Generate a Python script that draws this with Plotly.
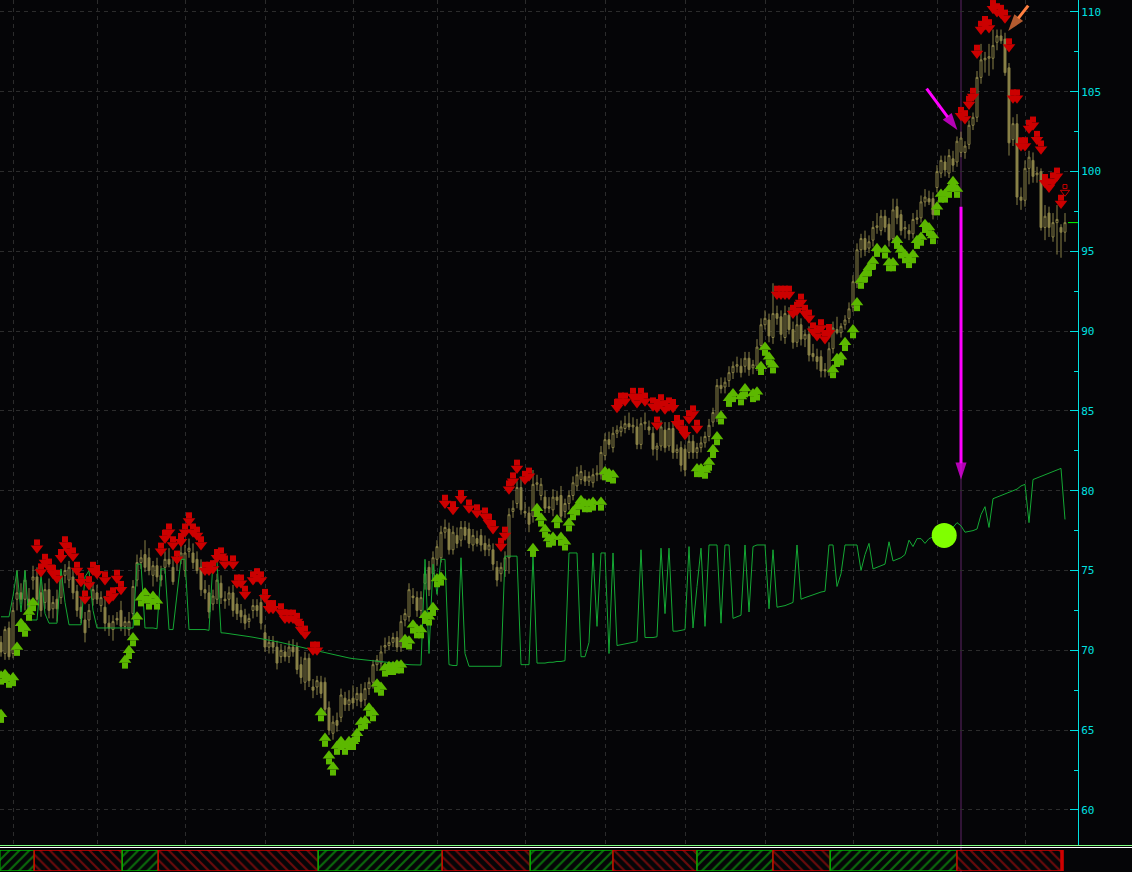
import plotly.graph_objects as go

# ---------------- data (candle index = trading day) ----------------
opens = [
    70.5, 69.8, 71.4, 69.8, 73.2, 73.6, 73.2, 73.2, 74.4, 74.6,
    73.6, 73.0, 73.8, 72.6, 73.2, 73.3, 74.7, 74.4, 74.6, 73.7,
    72.7, 71.9, 71.9, 73.2, 73.6, 72.8, 72.7, 71.7, 71.3, 72.0,
    72.5, 71.5, 71.3, 72.3, 74.4, 75.5, 76.0, 75.8, 74.7, 75.3,
    74.7, 75.2, 75.7, 75.2, 75.5, 75.7, 75.0, 76.2, 76.1, 75.7,
    75.2, 73.8, 73.6, 72.9, 73.2, 74.2, 73.2, 73.2, 73.6, 72.9,
    72.5, 72.2, 71.8, 72.5, 72.8, 73.0, 71.1, 70.2, 70.5, 70.2,
    69.6, 69.9, 69.6, 70.2, 70.2, 69.1, 68.0, 69.5, 67.7, 67.7,
    68.0, 68.0, 66.4, 64.8, 65.6, 65.8, 67.0, 66.6, 67.0, 66.9,
    67.3, 66.9, 67.6, 68.0, 69.1, 69.2, 70.2, 70.3, 70.5, 70.8,
    70.2, 71.9, 72.1, 73.4, 73.3, 72.5, 74.2, 75.2, 74.8, 75.7,
    75.8, 77.4, 77.6, 76.3, 77.2, 76.9, 77.7, 77.6, 76.6, 77.0,
    77.2, 76.7, 76.3, 76.3, 75.2, 74.8, 75.0, 75.8, 78.7, 79.2,
    80.2, 78.7, 78.6, 78.4, 80.4, 79.7, 79.6, 79.0, 78.8, 79.6,
    79.7, 78.7, 79.2, 79.7, 80.3, 80.7, 80.9, 80.6, 80.5, 81.0,
    81.0, 82.2, 83.2, 82.7, 83.6, 83.7, 83.9, 84.2, 84.0, 84.0,
    82.9, 84.2, 84.0, 83.6, 82.6, 82.8, 83.8, 82.8, 83.9, 82.4,
    82.7, 82.6, 82.4, 83.1, 82.4, 82.7, 83.0, 83.4, 84.3, 84.6,
    86.6, 86.5, 86.9, 87.4, 87.8, 87.8, 87.8, 88.3, 87.7, 87.8,
    89.1, 90.4, 90.7, 89.6, 91.1, 90.9, 89.6, 91.0, 90.1, 89.3,
    90.4, 89.5, 89.8, 88.6, 88.4, 88.4, 87.6, 87.5, 88.9, 90.1,
    89.9, 90.4, 90.8, 91.5, 93.0, 95.1, 95.8, 95.2, 95.7, 96.5,
    96.3, 97.2, 96.7, 95.8, 97.8, 97.3, 96.4, 96.3, 96.1, 97.0,
    97.1, 98.1, 98.3, 98.3, 99.0, 99.9, 100.6, 99.9, 100.8, 100.6,
    101.2, 101.2, 101.7, 102.9, 103.4, 105.9, 107.0, 107.1, 107.1, 108.1,
    108.5, 108.3, 106.5, 102.0, 103.0, 98.4, 98.2, 100.2, 100.7, 99.8,
    100.0, 96.5, 97.4, 95.9, 96.8, 96.5, 96.2,
]
highs = [
    70.9, 71.5, 71.8, 73.0, 75.0, 74.2, 75.0, 73.9, 75.3, 75.2,
    74.3, 74.2, 74.5, 73.4, 73.8, 75.0, 75.4, 75.6, 75.1, 74.1,
    73.3, 72.4, 72.9, 74.3, 74.1, 73.7, 73.4, 72.2, 72.2, 72.4,
    73.1, 72.1, 72.4, 74.4, 76.0, 76.3, 76.9, 76.4, 75.6, 75.8,
    75.3, 76.2, 76.4, 75.8, 76.1, 76.6, 76.6, 77.0, 76.7, 76.2,
    75.7, 74.4, 74.1, 73.8, 74.8, 74.7, 73.7, 74.0, 74.1, 73.3,
    72.9, 72.6, 72.3, 73.2, 73.2, 73.5, 71.6, 70.9, 70.9, 70.6,
    70.4, 70.3, 70.6, 70.7, 70.5, 69.6, 69.9, 69.8, 68.2, 68.4,
    68.4, 68.3, 66.8, 65.9, 66.1, 67.6, 67.4, 67.5, 67.8, 67.7,
    67.9, 68.0, 68.3, 69.4, 69.7, 70.3, 70.8, 70.9, 71.1, 71.2,
    72.2, 72.6, 74.2, 73.9, 73.7, 73.7, 75.2, 75.6, 76.2, 76.9,
    77.8, 78.2, 78.0, 77.8, 77.7, 78.1, 78.1, 78.0, 77.6, 77.5,
    77.6, 77.2, 77.0, 76.7, 75.6, 75.5, 76.2, 78.9, 79.4, 80.6,
    80.9, 79.3, 79.0, 81.3, 81.0, 80.8, 80.0, 79.6, 80.1, 80.0,
    80.3, 79.5, 80.0, 80.9, 81.5, 81.6, 81.3, 81.2, 81.4, 81.6,
    82.8, 83.6, 83.7, 84.0, 84.1, 84.4, 84.7, 84.9, 84.6, 84.5,
    84.6, 84.9, 84.4, 84.0, 83.0, 84.4, 84.3, 84.3, 84.3, 82.9,
    83.1, 82.9, 83.5, 83.5, 83.0, 83.4, 83.7, 84.5, 85.2, 87.0,
    87.1, 87.1, 87.8, 88.1, 88.4, 88.3, 88.7, 88.7, 88.2, 89.5,
    90.8, 91.3, 91.1, 93.0, 91.6, 91.3, 91.6, 91.5, 90.6, 91.0,
    90.8, 90.1, 90.3, 89.2, 88.9, 88.8, 88.0, 89.3, 90.6, 90.9,
    90.5, 91.0, 91.8, 93.5, 95.5, 96.1, 96.3, 96.0, 96.9, 97.4,
    97.6, 97.6, 97.1, 98.3, 98.3, 97.6, 96.9, 96.7, 97.4, 97.6,
    98.5, 98.9, 98.8, 98.7, 100.4, 101.0, 101.0, 101.4, 101.3, 102.2,
    102.5, 101.9, 103.2, 103.7, 106.3, 108.0, 107.5, 108.0, 108.9, 108.9,
    108.9, 108.7, 106.8, 103.4, 103.6, 99.0, 100.7, 101.3, 101.2, 100.3,
    100.2, 97.9, 97.8, 97.4, 97.9, 96.7, 97.4,
]
lows = [
    69.6, 69.4, 69.4, 69.5, 72.5, 72.9, 72.5, 72.2, 73.8, 72.9,
    72.1, 72.6, 72.0, 72.0, 71.8, 72.9, 74.2, 73.9, 73.2, 72.1,
    71.7, 70.5, 71.4, 72.8, 72.9, 72.4, 71.2, 70.9, 70.6, 71.6,
    71.2, 70.9, 70.9, 72.0, 74.0, 75.1, 74.9, 74.7, 74.0, 74.3,
    74.0, 74.8, 75.2, 74.1, 75.0, 75.4, 74.6, 75.8, 75.1, 74.8,
    73.4, 73.2, 72.0, 72.5, 72.9, 72.9, 72.6, 72.8, 72.1, 71.9,
    71.7, 71.3, 71.4, 72.0, 72.1, 71.3, 69.9, 69.8, 69.8, 68.8,
    69.2, 69.3, 69.2, 69.6, 68.5, 67.9, 67.5, 67.7, 67.0, 67.2,
    67.0, 65.9, 64.7, 64.4, 64.9, 65.5, 66.2, 66.2, 66.3, 66.5,
    66.4, 66.5, 67.2, 67.6, 68.7, 68.9, 69.8, 70.0, 70.2, 69.9,
    69.9, 71.5, 71.8, 72.9, 72.1, 72.1, 73.8, 73.4, 74.4, 75.3,
    75.5, 77.0, 76.0, 76.0, 76.4, 76.5, 76.9, 76.4, 76.2, 76.5,
    76.2, 75.9, 75.9, 75.0, 74.0, 74.3, 74.6, 74.8, 78.3, 78.9,
    78.5, 78.3, 77.4, 78.0, 80.0, 79.4, 78.6, 78.6, 78.4, 79.1,
    78.0, 78.3, 78.8, 79.4, 80.0, 80.4, 80.3, 80.3, 80.2, 80.6,
    80.7, 81.9, 82.6, 82.4, 83.3, 83.4, 83.6, 83.8, 83.6, 82.6,
    82.6, 83.8, 83.5, 82.2, 81.9, 82.5, 82.4, 82.5, 82.0, 82.0,
    81.2, 80.9, 82.0, 82.0, 82.0, 82.4, 82.7, 83.1, 84.0, 84.3,
    86.1, 86.1, 86.5, 87.0, 87.4, 87.1, 87.4, 87.2, 87.3, 87.5,
    88.8, 90.1, 89.3, 89.2, 90.4, 89.4, 89.2, 89.8, 88.9, 89.0,
    89.1, 89.0, 88.1, 88.1, 87.6, 87.1, 87.1, 87.2, 88.6, 89.8,
    89.6, 90.1, 90.5, 91.2, 92.7, 94.6, 94.7, 94.9, 95.3, 96.1,
    96.0, 96.2, 95.3, 95.5, 96.7, 96.0, 95.8, 95.7, 95.8, 96.7,
    96.8, 97.8, 97.9, 97.0, 98.7, 99.6, 99.7, 99.6, 100.0, 100.3,
    100.9, 100.8, 101.4, 102.6, 103.1, 105.5, 106.2, 106.0, 106.4, 107.6,
    108.0, 106.0, 101.0, 101.6, 97.9, 97.6, 97.8, 99.2, 99.3, 99.3,
    96.3, 95.7, 95.9, 95.6, 94.8, 94.6, 95.6,
]
closes = [
    69.9, 71.3, 69.6, 72.5, 73.6, 73.2, 74.4, 72.6, 74.6, 73.2,
    72.5, 73.8, 72.5, 73.0, 72.6, 74.6, 75.0, 75.2, 73.6, 72.5,
    72.0, 71.1, 72.5, 73.8, 73.2, 73.3, 71.7, 71.4, 71.8, 71.9,
    71.5, 71.8, 71.8, 74.0, 75.5, 75.8, 75.2, 75.0, 75.3, 74.6,
    74.4, 75.7, 75.4, 74.3, 75.7, 76.1, 76.1, 76.4, 75.5, 75.0,
    73.8, 73.6, 72.4, 73.4, 74.4, 73.3, 73.1, 73.6, 72.5, 72.3,
    72.1, 71.7, 72.0, 72.8, 72.5, 71.7, 70.2, 70.5, 70.2, 69.2,
    70.0, 69.6, 70.2, 69.9, 68.8, 68.3, 69.5, 68.1, 67.5, 68.1,
    67.3, 66.3, 65.0, 65.5, 65.3, 67.2, 66.6, 66.9, 66.7, 67.3,
    66.8, 67.6, 68.0, 69.1, 69.4, 69.9, 70.3, 70.5, 70.8, 70.2,
    71.8, 72.3, 73.8, 73.3, 72.5, 73.3, 74.8, 73.8, 75.8, 76.5,
    77.4, 77.7, 76.3, 77.4, 76.7, 77.7, 77.2, 76.7, 77.2, 76.7,
    76.6, 76.3, 76.6, 75.4, 74.4, 75.2, 75.8, 78.5, 78.9, 80.2,
    78.8, 78.6, 77.9, 80.4, 80.5, 80.4, 78.9, 78.9, 79.6, 79.4,
    78.4, 79.2, 79.7, 80.5, 81.0, 81.2, 80.6, 80.9, 81.0, 81.1,
    82.4, 83.2, 82.9, 83.6, 83.8, 84.0, 84.2, 84.0, 84.1, 82.9,
    84.2, 84.3, 83.8, 82.6, 82.8, 84.0, 82.7, 83.9, 82.4, 82.6,
    81.6, 81.3, 83.1, 82.4, 82.7, 83.0, 83.4, 84.1, 84.9, 86.6,
    86.4, 86.8, 87.4, 87.8, 87.9, 87.4, 88.3, 87.6, 87.9, 89.0,
    90.4, 90.8, 89.7, 91.1, 90.8, 89.8, 91.1, 90.1, 89.3, 90.4,
    89.5, 89.8, 88.5, 88.4, 88.1, 87.5, 87.5, 88.9, 90.2, 89.9,
    90.3, 90.7, 91.4, 93.1, 95.1, 95.8, 95.1, 95.6, 96.5, 96.6,
    97.2, 96.5, 95.7, 97.6, 97.1, 96.3, 96.5, 96.1, 97.0, 97.1,
    98.1, 98.4, 98.1, 97.3, 100.0, 100.7, 100.1, 101.0, 100.4, 101.9,
    102.1, 101.6, 102.9, 103.4, 105.9, 107.0, 107.1, 107.2, 107.9, 108.5,
    108.2, 106.2, 101.8, 103.0, 98.4, 98.2, 100.2, 100.9, 99.7, 99.9,
    96.5, 97.2, 96.5, 96.8, 97.0, 96.2, 96.8,
]
stop_line = [
    72.1, 72.1, 72.1, 73.4, 75.0, 72.4, 75.0, 71.9, 71.9, 71.9,
    74.7, 72.3, 71.7, 71.7, 71.7, 75.1, 73.0, 71.6, 71.6, 71.6,
    71.6, 74.6, 75.0, 72.5, 71.4, 71.4, 71.4, 71.4, 71.4, 71.4,
    71.4, 71.4, 71.4, 71.4, 75.4, 75.4, 71.4, 71.4, 71.4, 71.35,
    75.1, 75.1, 71.3, 71.3, 73.5, 75.7, 75.7, 71.3, 71.3, 71.3,
    71.3, 71.3, 71.25, 75.6, 75.6, 71.1, 71.08, 71.05, 71.0, 70.97,
    70.94, 70.9, 70.86, 70.82, 70.78, 70.74, 70.69, 70.64, 70.59, 70.54,
    70.49, 70.44, 70.38, 70.32, 70.26, 70.2, 70.14, 70.08, 70.02, 69.96,
    69.9, 69.84, 69.78, 69.72, 69.66, 69.6, 69.56, 69.52, 69.48, 69.45,
    69.42, 69.39, 69.36, 69.33, 69.3, 69.27, 69.24, 69.21, 69.18, 69.16,
    69.14, 69.12, 69.1, 69.09, 69.08, 69.08, 75.7, 69.8, 75.4, 73.5,
    75.7, 75.7, 69.1, 69.05, 69.05, 75.8, 69.8, 69.0, 69.0, 69.0,
    69.0, 69.0, 69.0, 69.0, 69.0, 69.0, 75.9, 75.9, 75.9, 75.9,
    69.1, 69.1, 69.1, 76.0, 69.2, 69.2, 69.2, 69.25, 69.25, 69.3,
    69.3, 69.35, 76.1, 76.1, 76.1, 69.6, 69.6, 70.5, 76.1, 71.5,
    76.1, 76.1, 69.8, 76.1, 70.3, 70.35, 70.4, 70.45, 70.5, 70.55,
    76.3, 70.8, 70.8, 70.8, 70.85, 76.4, 72.3, 76.4, 71.2, 71.2,
    71.25, 71.3, 76.5, 71.4, 74.0, 76.4, 71.5, 76.6, 76.6, 76.6,
    71.7, 76.6, 76.6, 72.0, 72.1, 72.2, 76.6, 72.4, 76.5, 76.6,
    76.6, 76.6, 72.6, 76.3, 72.7, 72.75, 72.8, 72.9, 73.0, 76.6,
    73.2, 73.3, 73.4, 73.5, 73.55, 73.65, 73.7, 76.6, 76.6, 74.0,
    74.8, 76.6, 76.6, 76.6, 76.6, 75.0, 76.0, 76.7, 75.1, 75.2,
    75.3, 75.4, 76.8, 75.6, 75.7, 75.8, 76.0, 76.9, 76.5, 77.0,
    77.0, 76.7, 77.0, 77.1, 77.2, 77.3, 77.4, 77.5, 77.7, 78.0,
    77.8, 77.4, 77.45, 77.5, 77.6, 78.5, 79.0, 77.7, 79.5, 79.6,
    79.7, 79.8, 79.9, 80.0, 80.1, 80.3, 80.4, 78.0, 80.7, 80.8,
    80.9, 81.0, 81.1, 81.2, 81.3, 81.4, 78.2,
]

# sell signals (red arrows): candle index and price level
sell_idx = [9, 10, 11, 12, 13, 14, 15, 16, 17, 18, 19, 20, 21, 22, 23, 24, 26, 27, 28, 29, 30,
            40, 41, 42, 43, 44, 45, 46, 47, 48, 49, 50, 51, 52, 53, 54, 55, 56, 58, 59, 60, 61,
            63, 64, 65, 66, 67, 68, 70, 71, 72, 73, 74, 75, 76, 78, 79,
            111, 113, 115, 117, 119, 121, 122, 123, 125, 126, 127, 128, 129, 131, 132,
            154, 155, 156, 158, 159, 160, 161, 163, 164, 165, 166, 167, 168, 164, 169, 170, 171, 172, 173, 174,
            194, 195, 196, 197, 198, 199, 200, 201, 202, 203, 204, 205, 206, 207,
            240, 241, 242, 243, 244, 245, 246, 247, 248, 249, 250, 251, 252, 253, 254, 255, 256, 257, 258,
            259, 260, 261, 262, 263, 264, 265]
sell_px = [76.4, 74.9, 75.5, 75.2, 74.8, 74.5, 75.8, 76.6, 76.2, 75.9, 75.0, 74.3, 73.2, 74.1, 75.0, 74.8, 74.4, 73.2, 73.4, 74.5, 73.8,
           76.2, 77.0, 77.4, 76.6, 75.7, 76.8, 77.4, 78.1, 77.4, 77.2, 76.6, 75.0, 75.0, 75.1, 75.8, 75.9, 75.4, 75.4, 74.2, 74.2, 73.5,
           74.4, 74.6, 74.4, 73.3, 72.6, 72.6, 72.4, 72.0, 72.0, 72.0, 71.8, 71.3, 71.0, 70.0, 70.0,
           79.2, 78.8, 79.5, 78.9, 78.6, 78.4, 78.0, 77.6, 76.5, 77.2, 80.1, 80.6, 81.4, 80.7, 80.9,
           85.2, 85.6, 85.6, 85.9, 85.5, 85.9, 85.6, 85.3, 85.2, 85.5, 85.1, 85.3, 85.2, 84.1, 84.2, 83.9, 83.5, 84.5, 84.8, 83.9,
           92.3, 92.3, 92.3, 92.3, 91.1, 91.3, 91.8, 91.1, 90.8, 90.0, 89.7, 90.2, 89.5, 89.9,
           103.5, 103.3, 104.2, 104.7, 107.4, 108.9, 109.2, 109.0, 110.2, 110.0, 109.9, 109.6, 107.8, 104.6, 104.6, 101.6, 101.6, 102.7, 102.9,
           102.0, 101.4, 99.3, 99.0, 99.4, 99.7, 98.0]
pending_sell_idx = [266]
pending_sell_px = [98.7]

# buy signals (green arrows)
buy_idx = [0, 0, 1, 2, 3, 4, 5, 6, 7, 8,
           31, 32, 33, 34, 35, 36, 37, 38, 39,
           80, 81, 82, 83, 84, 85, 86, 87, 88, 89, 90, 91, 92, 93, 94, 95, 96, 97, 98, 99, 100,
           101, 102, 103, 104, 105, 106, 107, 108, 109, 110,
           133, 134, 135, 136, 137, 138, 139, 140, 141, 142, 143, 144, 145, 146, 147, 148, 150, 151, 152, 153,
           174, 175, 176, 177, 178, 179, 180, 182, 183, 185, 186, 188, 189, 190, 191, 192, 193,
           208, 209, 210, 211, 213, 214, 215, 216, 217, 218, 219, 221, 222, 223, 224, 225, 226, 227, 228, 229,
           230, 231, 232, 233, 234, 235, 236, 237, 238, 239]
buy_px = [66.0, 68.4, 68.5, 68.2, 68.3, 70.2, 71.7, 71.4, 72.4, 73.0,
          69.4, 70.0, 70.8, 72.1, 73.3, 73.6, 73.1, 73.4, 73.1,
          66.1, 64.5, 63.4, 62.7, 64.0, 64.3, 64.0, 64.3, 64.3, 64.8, 65.5, 65.6, 66.4, 66.1, 67.9, 67.7, 68.9, 69.0, 69.0, 69.1, 69.1,
          70.7, 70.6, 71.6, 71.3, 71.3, 72.2, 72.1, 72.7, 74.5, 74.6,
          76.4, 78.9, 78.3, 77.6, 77.0, 77.1, 78.2, 77.1, 76.8, 78.0, 78.7, 79.0, 79.4, 79.2, 79.2, 79.3, 79.3, 81.2, 81.1, 81.0,
          81.4, 81.4, 81.3, 81.8, 82.6, 83.4, 84.7, 85.8, 86.1, 85.9, 86.4, 86.1, 86.2, 87.8, 89.0, 88.4, 87.9,
          87.6, 88.3, 88.4, 89.3, 90.1, 91.8, 93.2, 93.6, 94.0, 94.4, 95.2, 95.1, 94.3, 94.3, 95.7, 95.1, 94.8, 94.5, 94.8, 95.7,
          95.9, 96.7, 96.5, 96.0, 97.8, 98.6, 98.6, 98.9, 99.4, 98.9]

# highlighted signal dot
dot_idx = [235.8]
dot_px = [77.2]

# cursor (vertical line) and call-out arrows: tail -> head (index, price)
cursor_idx = 240
callout_tail_idx = [240.0, 231.4, 256.8]
callout_tail_px = [97.8, 105.2, 110.4]
callout_head_idx = [240.0, 239.1, 251.8]
callout_head_px = [80.7, 102.6, 108.8]
callout_color = ["#ff00ff", "#ff00ff", "#ff8040"]

# month boundaries (vertical grid)
month_starts = [3, 24, 46, 66, 88, 109, 131, 151, 171, 191, 213, 234, 256]

# trend regimes shown in the bottom strip
regime_edges = [-0.3, 8.3, 30.3, 39.3, 79.3, 110.3, 132.3, 153.0, 174.0, 193.0, 207.3, 239.0, 265.0]
regime_bull = [True, False, True, False, True, False, True, False, True, False, True, False]
strip_tail = [265.35]

price_ticks = [60, 65, 70, 75, 80, 85, 90, 95, 100, 105, 110]

# ---------------- styling ----------------
BG = "#050507"
OLIVE = "#8a8248"
RED = "#cc0000"
LIME = "#5cb800"
CYAN = "#00e0e0"
GRID = "#2c2c2c"
STEM = 0.36  # price offset of the arrow stem from the arrow head

idx = list(range(len(closes)))

fig = go.Figure()

fig.add_trace(go.Scatter(x=idx[:len(stop_line)], y=stop_line, mode="lines",
                         line=dict(color="#14a834", width=1), hoverinfo="skip"))

fig.add_trace(go.Candlestick(
    x=idx, open=opens, high=highs, low=lows, close=closes,
    increasing=dict(line=dict(color=OLIVE, width=1), fillcolor=BG),
    decreasing=dict(line=dict(color=OLIVE, width=1), fillcolor=OLIVE),
    whiskerwidth=0, hoverinfo="skip"))

# sell arrows: stem + head
fig.add_trace(go.Scatter(x=sell_idx, y=[p + STEM for p in sell_px], mode="markers",
                         marker=dict(symbol="square", size=6, color=RED, line=dict(width=0)),
                         hoverinfo="skip"))
fig.add_trace(go.Scatter(x=sell_idx, y=sell_px, mode="markers",
                         marker=dict(symbol="triangle-down", size=11, color=RED, line=dict(width=0)),
                         hoverinfo="skip"))
fig.add_trace(go.Scatter(x=pending_sell_idx, y=[p + STEM for p in pending_sell_px], mode="markers",
                         marker=dict(symbol="square-open", size=4, color=RED, line=dict(width=1)),
                         hoverinfo="skip"))
fig.add_trace(go.Scatter(x=pending_sell_idx, y=pending_sell_px, mode="markers",
                         marker=dict(symbol="triangle-down-open", size=8, color=RED, line=dict(width=1)),
                         hoverinfo="skip"))

# buy arrows: stem + head
fig.add_trace(go.Scatter(x=buy_idx, y=[p - STEM for p in buy_px], mode="markers",
                         marker=dict(symbol="square", size=6, color=LIME, line=dict(width=0)),
                         hoverinfo="skip"))
fig.add_trace(go.Scatter(x=buy_idx, y=buy_px, mode="markers",
                         marker=dict(symbol="triangle-up", size=11, color=LIME, line=dict(width=0)),
                         hoverinfo="skip"))

# signal dot
fig.add_trace(go.Scatter(x=dot_idx, y=dot_px, mode="markers",
                         marker=dict(symbol="circle", size=25, color="#80ff00", line=dict(width=0)),
                         hoverinfo="skip"))

# call-out arrows
for x0, y0, x1, y1, c in zip(callout_tail_idx, callout_tail_px, callout_head_idx, callout_head_px, callout_color):
    fig.add_trace(go.Scatter(x=[x0, x1], y=[y0, y1], mode="lines+markers",
                             line=dict(color=c, width=3),
                             marker=dict(symbol=["circle", "arrow"], size=[0, 18], color=c,
                                         angleref="previous", line=dict(width=0)),
                             hoverinfo="skip"))

# bottom regime strip
centers = [(a + b) / 2 for a, b in zip(regime_edges[:-1], regime_edges[1:])]
widths = [b - a for a, b in zip(regime_edges[:-1], regime_edges[1:])]
fig.add_trace(go.Bar(
    x=centers, y=[1] * len(centers), base=0, width=widths, yaxis="y2",
    marker=dict(color=BG,
                line=dict(color=["#00b000" if b else "#d00000" for b in regime_bull], width=1.5),
                pattern=dict(shape=["/" if b else "\\" for b in regime_bull],
                             fgcolor=["#10d010" if b else "#d01010" for b in regime_bull],
                             bgcolor=BG, size=7, solidity=0.3)),
    hoverinfo="skip"))
fig.add_trace(go.Bar(x=strip_tail, y=[1], base=0, width=[0.7], yaxis="y2",
                     marker=dict(color="#d00000", line=dict(width=0)), hoverinfo="skip"))

H = 872
plot_bottom = 27 / H

fig.update_layout(
    width=1132, height=H,
    margin=dict(l=0, r=54, t=0, b=0),
    paper_bgcolor=BG, plot_bgcolor=BG,
    showlegend=False, barmode="overlay",
    xaxis=dict(range=[-0.25, 269.25], showticklabels=False, tickvals=month_starts, ticks="",
               showgrid=True, gridcolor=GRID, griddash="4px,4px", gridwidth=1,
               zeroline=False, showline=False, rangeslider=dict(visible=False)),
    yaxis=dict(domain=[plot_bottom, 1], range=[57.80, 110.75], side="right",
               tickvals=price_ticks, ticks="inside", ticklen=8, tickcolor=CYAN, tickwidth=1,
               showline=True, linecolor=CYAN, linewidth=1,
               showgrid=True, gridcolor=GRID, griddash="4px,4px", zeroline=False,
               tickfont=dict(family="DejaVu Sans Mono", size=11, color=CYAN),
               minor=dict(tick0=0, dtick=2.5, ticks="inside", ticklen=4, tickcolor=CYAN, showgrid=False)),
    yaxis2=dict(domain=[1 / H, 22 / H], range=[0, 1], visible=False, anchor="x", fixedrange=True),
    shapes=[
        dict(type="line", xref="x", yref="paper", x0=cursor_idx, x1=cursor_idx, y0=0, y1=1,
             line=dict(color="#5f2466", width=1), layer="below"),
        dict(type="line", xref="paper", yref="paper", x0=0, x1=1132 / 1078,
             y0=(H - 845.5) / H, y1=(H - 845.5) / H, line=dict(color="#80ff80", width=1)),
        dict(type="line", xref="paper", yref="paper", x0=0, x1=1132 / 1078,
             y0=(H - 847.5) / H, y1=(H - 847.5) / H, line=dict(color="#ffffff", width=1)),
        dict(type="line", xref="x", yref="y", x0=len(closes) - 0.25, x1=269.25,
             y0=closes[-1], y1=closes[-1], line=dict(color="#00ff00", width=1)),
    ],
)

fig.write_html("out.html",
               config={"displayModeBar": False},
               post_script="document.body.style.margin='0';document.body.style.padding='0';"
                           "document.body.style.background='" + BG + "';")
